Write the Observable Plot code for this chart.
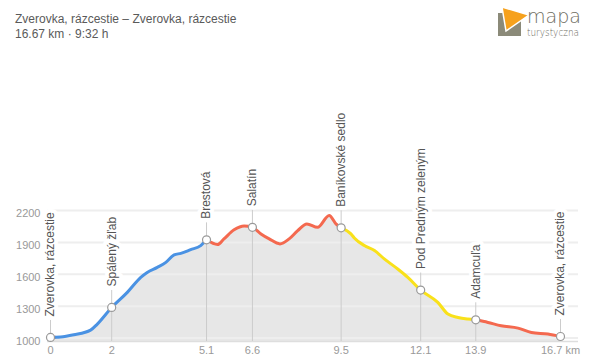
<!DOCTYPE html>
<html>
<head>
<meta charset="utf-8">
<script src="https://cdn.jsdelivr.net/npm/d3@7"></script>
<script src="https://cdn.jsdelivr.net/npm/@observablehq/plot@0.6"></script>
<style>
  html, body { margin: 0; padding: 0; background: #fff; }
  #wrap { position: relative; width: 600px; height: 362px; overflow: hidden; font-family: "Liberation Sans", Arial, Helvetica, sans-serif; }
  #title { position: absolute; left: 15px; top: 12px; font-size: 12px; line-height: 15px; color: #5a5a5a; }
  #logo { position: absolute; left: 490px; top: 0px; }
  #chart { position: absolute; left: 0; top: 0; }
</style>
</head>
<body>
<div id="wrap">
  <div id="chart"></div>
  <div id="title">
    <div>Zverovka, rázcestie – Zverovka, rázcestie</div>
    <div>16.67 km · 9:32 h</div>
  </div>
  <svg id="logo" width="110" height="44" viewBox="490 0 110 44">
    <rect x="498" y="13" width="23" height="23" fill="#8b8a79"/>
    <polygon points="502,7 529,15 506,31" fill="#f6a11c" stroke="#fff" stroke-width="1.5"/>
    <text x="527" y="23" font-family="'DejaVu Sans', sans-serif" font-weight="200" font-size="19" fill="#6e6d5f" textLength="54" lengthAdjust="spacingAndGlyphs">mapa</text>
    <text x="527" y="36" font-family="'DejaVu Sans', sans-serif" font-weight="200" font-size="10" fill="#6e6d5f" textLength="52" lengthAdjust="spacingAndGlyphs">turystyczna</text>
  </svg>
</div>
<script>
// Profile data (distance km, elevation m)
const km = [0, 0.15, 0.33, 0.76, 1.31, 1.53, 2.0, 2.51, 2.95, 3.16, 3.49, 3.77, 4.04, 4.26, 4.58, 4.91, 5.1, 5.46, 5.67, 6.0, 6.33, 6.6, 6.88, 7.15, 7.5, 7.8, 8.08, 8.38, 8.73, 9.11, 9.33, 9.5, 9.82, 9.93, 10.26, 10.59, 10.91, 11.35, 11.68, 12.1, 12.66, 12.99, 13.32, 13.64, 13.9, 14.3, 14.73, 15.28, 15.72, 16.26, 16.67];
const elev = [1006, 1008, 1010, 1031, 1075, 1132, 1288, 1430, 1571, 1618, 1665, 1712, 1782, 1797, 1832, 1870, 1924, 1880, 1933, 2018, 2055, 2042, 1980, 1933, 1886, 1933, 2011, 2074, 2042, 2153, 2074, 2037, 1980, 1942, 1870, 1823, 1745, 1650, 1571, 1452, 1336, 1226, 1194, 1179, 1172, 1147, 1116, 1094, 1053, 1038, 1015];

// Colored sections
const segStart = [0, 0.15, 5.1, 9.5, 13.9];
const segEnd = [0.15, 5.1, 9.5, 13.9, 16.67];
const segColor = ["#f4694f", "#4a92e3", "#f4694f", "#f9e11a", "#f4694f"];

// Waypoints
const wpName = ["Zverovka, rázcestie", "Spálený žľab", "Brestová", "Salatín", "Baníkovské sedlo", "Pod Predným zeleným", "Adamcuľa", "Zverovka, rázcestie"];
const wpKm = [0, 2, 5.1, 6.6, 9.5, 12.1, 13.9, 16.67];
const wpElev = [1006, 1288, 1924, 2042, 2037, 1452, 1172, 1015];

// Axis ticks
const yTicks = [1000, 1300, 1600, 1900, 2200];
const xTicks = [0, 2, 5.1, 6.6, 9.5, 12.1, 13.9, 16.67];
const xTickLabels = ["0", "2", "5.1", "6.6", "9.5", "12.1", "13.9", "16.7 km"];

const yMin = 968, yMax = 2200;

const profile = km.map((k, i) => ({km: k, elev: elev[i]}));
const segRows = [];
segStart.forEach((s, i) => {
  profile.filter(d => d.km >= s - 1e-9 && d.km <= segEnd[i] + 1e-9)
    .forEach(d => segRows.push({km: d.km, elev: d.elev, seg: i, color: segColor[i]}));
});
const waypoints = wpName.map((n, i) => ({name: n, km: wpKm[i], elev: wpElev[i]}));
const fmt = new Map(xTicks.map((t, i) => [t, xTickLabels[i]]));

const font = "'Liberation Sans', Arial, Helvetica, sans-serif";

const chart = Plot.plot({
  width: 600,
  height: 362,
  marginLeft: 50,
  marginRight: 40,
  marginTop: 210,
  marginBottom: 21,
  style: {fontFamily: font, background: "transparent", overflow: "visible"},
  x: {domain: [0, 16.67]},
  y: {domain: [yMin, yMax]},
  marks: [
    Plot.areaY(profile, {x: "km", y1: yMin, y2: "elev", fill: "#e7e7e7", curve: "monotone-x"}),
    Plot.ruleY(yTicks, {y: d => d, stroke: "#eeeeee", strokeWidth: 2, insetLeft: -3, insetRight: -18}),
    Plot.ruleY([yMin], {y: d => d, stroke: "#dedede", strokeWidth: 1.5, insetLeft: -3, insetRight: -18}),
    Plot.ruleX(waypoints, {x: "km", y1: "elev", y2: yMin, stroke: "#cccccc", strokeWidth: 1, insetTop: -17}),
    Plot.line(segRows, {x: "km", y: "elev", z: "seg", stroke: "color", strokeWidth: 3, curve: "monotone-x"}),
    Plot.text(waypoints, {x: "km", y: "elev", text: "name", rotate: -90, textAnchor: "start", dy: -21, fontSize: 12, fill: "#555", stroke: "white", strokeWidth: 8}),
    Plot.dot(waypoints, {x: "km", y: "elev", r: 4, fill: "white", stroke: "#999", strokeWidth: 1.2}),
    Plot.axisX(xTicks, {tickSize: 0, tickPadding: 5, tickFormat: d => fmt.get(d), fontSize: 11, fill: "#999", label: null}),
    Plot.axisY(yTicks, {tickSize: 0, tickPadding: 10, fontSize: 11, fill: "#999", dy: 3, label: null, tickFormat: d => String(d)})
  ]
});
document.getElementById("chart").appendChild(chart);
</script>
</body>
</html>
